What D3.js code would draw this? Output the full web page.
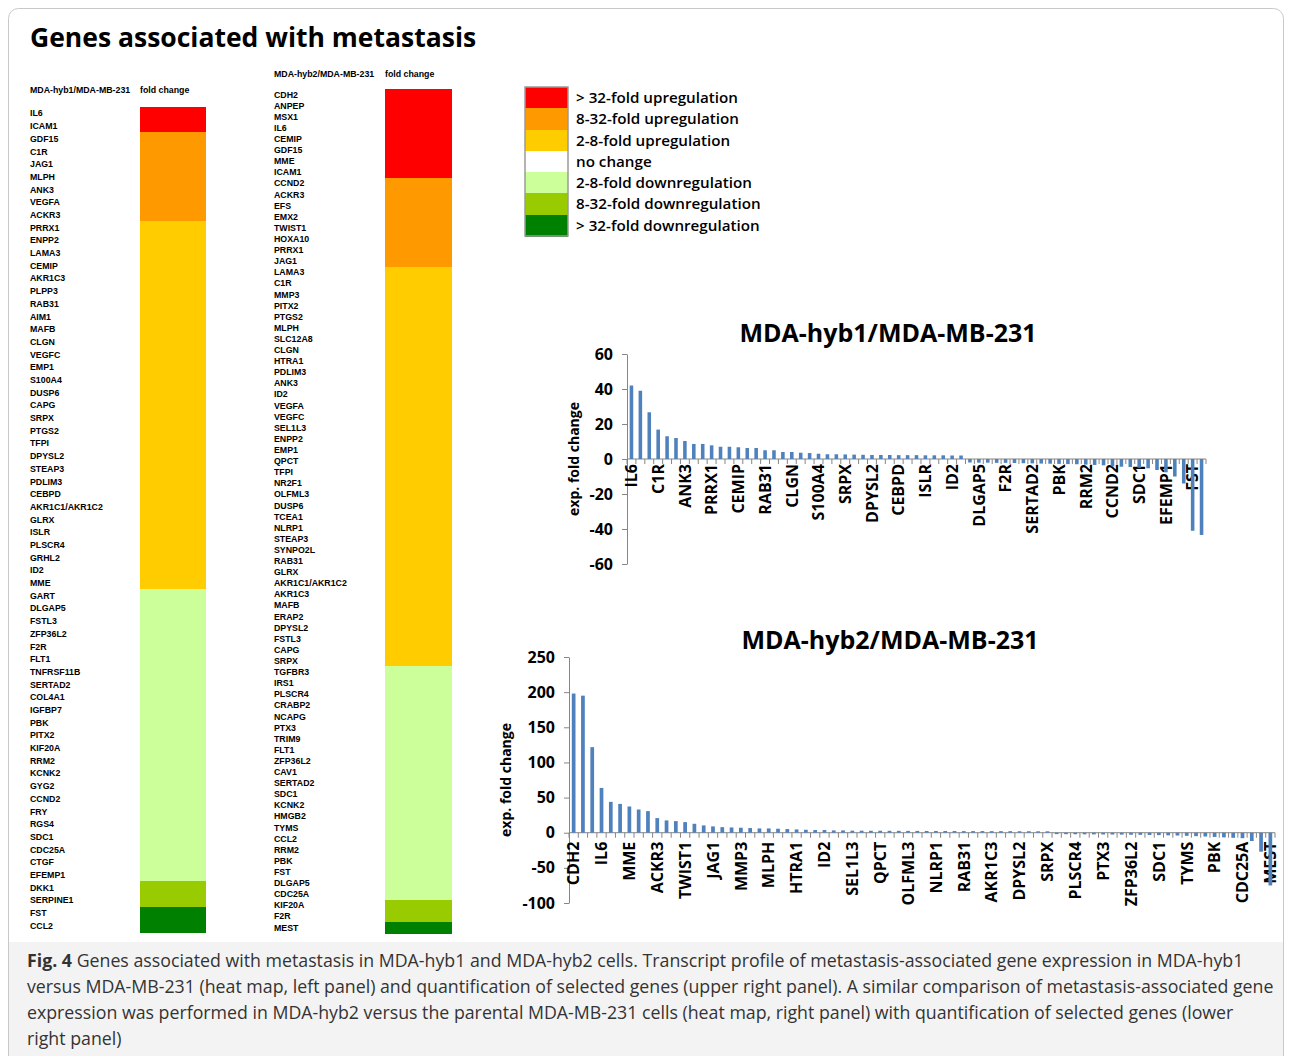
<!DOCTYPE html>
<html>
<head>
<meta charset="utf-8">
<script src="https://cdn.jsdelivr.net/npm/d3@7/dist/d3.min.js"></script>
<style>
body { margin: 0; background: #fff; }
svg { display: block; }
</style>
</head>
<body>
<div id="fig"></div>
<script>
/****** data ******/
var hyb1Genes = ["IL6","ICAM1","GDF15","C1R","JAG1","MLPH","ANK3","VEGFA","ACKR3","PRRX1",
    "ENPP2","LAMA3","CEMIP","AKR1C3","PLPP3","RAB31","AIM1","MAFB","CLGN","VEGFC",
    "EMP1","S100A4","DUSP6","CAPG","SRPX","PTGS2","TFPI","DPYSL2","STEAP3","PDLIM3",
    "CEBPD","AKR1C1/AKR1C2","GLRX","ISLR","PLSCR4","GRHL2","ID2","MME","GART","DLGAP5",
    "FSTL3","ZFP36L2","F2R","FLT1","TNFRSF11B","SERTAD2","COL4A1","IGFBP7","PBK","PITX2",
    "KIF20A","RRM2","KCNK2","GYG2","CCND2","FRY","RGS4","SDC1","CDC25A","CTGF",
    "EFEMP1","DKK1","SERPINE1","FST","CCL2"];
var hyb1Fold = [42, 39, 26.7, 16.8, 13, 12, 10.3, 8.6, 8.6, 7.8,
    7, 7, 6.7, 6.3, 6.3, 5, 5, 4, 4, 3.6,
    3.4, 3, 2.7, 2.7, 2.6, 2.5, 2.4, 2.3, 2.3, 2.3,
    2.2, 2.2, 2.2, 2.1, 2.1, 2.1, 2.0, 2.0, -2.0, -2.1,
    -2.1, -2.2, -2.2, -2.3, -2.4, -2.5, -2.6, -2.7, -2.8, -2.9,
    -3.0, -3.2, -3.4, -3.6, -4.2, -4.4, -4.6, -5.0, -5.3, -6.3,
    -7.6, -10, -14, -41, -43.4];

var hyb2Genes = ["CDH2","ANPEP","MSX1","IL6","CEMIP","GDF15","MME","ICAM1","CCND2","ACKR3",
    "EFS","EMX2","TWIST1","HOXA10","PRRX1","JAG1","LAMA3","C1R","MMP3","PITX2",
    "PTGS2","MLPH","SLC12A8","CLGN","HTRA1","PDLIM3","ANK3","ID2","VEGFA","VEGFC",
    "SEL1L3","ENPP2","EMP1","QPCT","TFPI","NR2F1","OLFML3","DUSP6","TCEA1","NLRP1",
    "STEAP3","SYNPO2L","RAB31","GLRX","AKR1C1/AKR1C2","AKR1C3","MAFB","ERAP2","DPYSL2","FSTL3",
    "CAPG","SRPX","TGFBR3","IRS1","PLSCR4","CRABP2","NCAPG","PTX3","TRIM9","FLT1",
    "ZFP36L2","CAV1","SERTAD2","SDC1","KCNK2","HMGB2","TYMS","CCL2","RRM2","PBK",
    "FST","DLGAP5","CDC25A","KIF20A","F2R","MEST"];
var hyb2Fold = [198, 195, 121.7, 63.7, 43.9, 41, 37.3, 33, 30.7, 20.8,
    17.5, 16.5, 15.1, 12.7, 10.4, 9, 7.9, 7.5, 7.1, 6.6,
    6.1, 6.1, 5.7, 5.2, 4.7, 4.2, 3.8, 3.8, 3.3, 3.3,
    2.9, 2.9, 2.8, 2.8, 2.7, 2.7, 2.6, 2.6, 2.5, 2.5,
    2.4, 2.4, 2.3, 2.3, 2.3, 2.2, 2.2, 2.2, 2.1, 2.1,
    2.0, 2.0, -2.0, -2.1, -2.2, -2.3, -2.4, -2.5, -2.6, -2.7,
    -2.9, -3.0, -3.2, -3.4, -3.7, -4.0, -4.4, -4.9, -5.4, -6.0,
    -6.6, -7.2, -7.8, -11.8, -27, -75];

var hyb1Ticks = [-60, -40, -20, 0, 20, 40, 60];
var hyb2Ticks = [-100, -50, 0, 50, 100, 150, 200, 250];

var legendLabels = ["> 32-fold upregulation", "8-32-fold upregulation", "2-8-fold upregulation",
    "no change", "2-8-fold downregulation", "8-32-fold downregulation", "> 32-fold downregulation"];
var legendColors = ["#ff0000", "#ff9900", "#ffcc00", "#ffffff", "#ccff99", "#99cc00", "#008000"];

var captionLines = [
    "Genes associated with metastasis in MDA-hyb1 and MDA-hyb2 cells. Transcript profile of metastasis-associated gene expression in MDA-hyb1",
    "versus MDA-MB-231 (heat map, left panel) and quantification of selected genes (upper right panel). A similar comparison of metastasis-associated gene",
    "expression was performed in MDA-hyb2 versus the parental MDA-MB-231 cells (heat map, right panel) with quantification of selected genes (lower",
    "right panel)"];

/****** setup ******/
var W = 1292, H = 1056;
var barColor = "#4f81bd";
var axisColor = "#868686";
var sansFont = "'Open Sans', 'Noto Sans', sans-serif";
var arialFont = "'Liberation Sans', Arial, sans-serif";

var svg = d3.select("#fig").append("svg")
    .attr("width", W)
    .attr("height", H);

// caption background + frame
svg.append("rect").attr("x", 8).attr("y", 942).attr("width", W - 16).attr("height", H - 942)
    .attr("fill", "#f3f3f3");
svg.append("rect").attr("x", 8.5).attr("y", 8.5).attr("width", W - 17).attr("height", H + 20)
    .attr("rx", 10).attr("fill", "none").attr("stroke", "#c8c8c8");

svg.append("text")
    .attr("x", 30).attr("y", 47)
    .style("font-family", sansFont).style("font-weight", 700).style("font-size", "26.5px")
    .text("Genes associated with metastasis");

// heat colour from fold change
var upScale = d3.scaleThreshold().domain([2, 8, 32]).range([legendColors[3], legendColors[2], legendColors[1], legendColors[0]]);
var downScale = d3.scaleThreshold().domain([2, 8, 32]).range([legendColors[3], legendColors[4], legendColors[5], legendColors[6]]);
function heatColor(v) {
    return v >= 0 ? upScale(v) : downScale(-v);
}

/****** heat maps ******/
function heatMap(genes, values, opt) {
    var g = svg.append("g");
    var y = d3.scaleBand().domain(genes).range([opt.top, opt.bottom]);

    g.append("text").attr("x", opt.labelX).attr("y", opt.headY)
        .style("font-family", arialFont).style("font-weight", "bold").style("font-size", "8.8px")
        .text(opt.head);
    g.append("text").attr("x", opt.cellX).attr("y", opt.headY)
        .style("font-family", arialFont).style("font-weight", "bold").style("font-size", "8.8px")
        .text("fold change");

    g.selectAll("rect.cell")
        .data(genes)
        .enter().append("rect")
        .attr("class", "cell")
        .attr("x", opt.cellX)
        .attr("y", function(d) { return y(d); })
        .attr("width", opt.cellW)
        .attr("height", y.bandwidth() + 1)
        .attr("shape-rendering", "crispEdges")
        .attr("fill", function(d, i) { return heatColor(values[i]); });

    g.selectAll("text.gene")
        .data(genes)
        .enter().append("text")
        .attr("class", "gene")
        .attr("x", opt.labelX)
        .attr("y", function(d) { return y(d) + y.bandwidth() / 2; })
        .attr("dy", "0.35em")
        .style("font-family", arialFont).style("font-weight", "bold").style("font-size", "8.8px")
        .text(function(d) { return d; });
}

heatMap(hyb1Genes, hyb1Fold, {top: 107, bottom: 932, labelX: 30, cellX: 140, cellW: 66, headY: 93, head: "MDA-hyb1/MDA-MB-231"});
heatMap(hyb2Genes, hyb2Fold, {top: 89, bottom: 933, labelX: 274, cellX: 385, cellW: 67, headY: 77, head: "MDA-hyb2/MDA-MB-231"});

/****** legend ******/
var lg = svg.append("g");
var ly = d3.scaleBand().domain(legendLabels).range([87, 236]);
lg.selectAll("rect")
    .data(legendLabels)
    .enter().append("rect")
    .attr("x", 525).attr("y", function(d) { return ly(d); })
    .attr("width", 43).attr("height", ly.bandwidth() + 0.5)
    .attr("shape-rendering", "crispEdges")
    .attr("fill", function(d, i) { return legendColors[i]; });
lg.append("rect").attr("x", 525).attr("y", 87).attr("width", 43).attr("height", 149)
    .attr("fill", "none").attr("stroke", "#9a9a9a").attr("stroke-width", 1.5);
lg.selectAll("text")
    .data(legendLabels)
    .enter().append("text")
    .attr("x", 576).attr("y", function(d) { return ly(d) + ly.bandwidth() / 2; })
    .attr("dy", "0.35em")
    .style("font-family", sansFont).style("font-weight", 600).style("font-size", "15.2px")
    .text(function(d) { return d; });

/****** bar charts ******/
function barChart(genes, values, ticks, opt) {
    var g = svg.append("g");
    var y = d3.scaleLinear().domain([ticks[0], ticks[ticks.length - 1]]).range([opt.bottom, opt.top]);
    var x = d3.scaleBand().domain(genes).range([opt.left, opt.right]).paddingInner(0.6).paddingOuter(0.3);
    var y0 = y(0);
    var step = x.step();

    g.append("text")
        .attr("x", opt.titleX).attr("y", opt.titleY)
        .attr("text-anchor", "middle")
        .style("font-family", sansFont).style("font-weight", "bold").style("font-size", "25px")
        .text(opt.title);

    g.append("text")
        .attr("transform", "translate(" + opt.yLabelX + "," + ((opt.top + opt.bottom) / 2) + ") rotate(-90)")
        .attr("text-anchor", "middle")
        .style("font-family", sansFont).style("font-weight", "bold").style("font-size", "14px")
        .text("exp. fold change");

    var ax = g.append("g")
        .attr("transform", "translate(" + opt.left + ",0)")
        .call(d3.axisLeft(y).tickValues(ticks).tickSize(5).tickSizeOuter(0).tickPadding(9)
            .tickFormat(function(d) { return String(d); }));
    ax.select(".domain").attr("stroke", axisColor);
    ax.selectAll(".tick line").attr("stroke", axisColor);
    ax.selectAll(".tick text")
        .style("font-family", sansFont).style("font-weight", "bold").style("font-size", "16px")
        .attr("fill", "#000");

    // category axis at zero
    g.append("line")
        .attr("x1", opt.left).attr("x2", opt.right)
        .attr("y1", y0).attr("y2", y0)
        .attr("stroke", axisColor);
    g.selectAll("line.ctick")
        .data(d3.range(genes.length + 1))
        .enter().append("line")
        .attr("class", "ctick")
        .attr("x1", function(i) { return opt.left + i * step; })
        .attr("x2", function(i) { return opt.left + i * step; })
        .attr("y1", y0).attr("y2", y0 + 5)
        .attr("stroke", axisColor);

    g.selectAll("text.cat")
        .data(genes.filter(function(d, i) { return i % 3 === 0; }))
        .enter().append("text")
        .attr("class", "cat")
        .attr("transform", function(d) {
            return "translate(" + (x(d) + x.bandwidth() / 2) + "," + (y0 + opt.labelGap) + ") rotate(-90)";
        })
        .attr("dy", "0.36em")
        .attr("text-anchor", "end")
        .style("font-family", sansFont).style("font-weight", "bold").style("font-size", "16px")
        .text(function(d) { return d; });

    g.selectAll("rect.bar")
        .data(genes)
        .enter().append("rect")
        .attr("class", "bar")
        .attr("x", function(d) { return x(d); })
        .attr("y", function(d, i) { return Math.min(y(values[i]), y0); })
        .attr("width", x.bandwidth())
        .attr("height", function(d, i) { return Math.abs(y(values[i]) - y0); })
        .attr("fill", barColor);
}

barChart(hyb1Genes, hyb1Fold, hyb1Ticks, {left: 627, right: 1206, top: 354, bottom: 564,
    title: "MDA-hyb1/MDA-MB-231", titleX: 888, titleY: 342, yLabelX: 579, labelGap: 5});
barChart(hyb2Genes, hyb2Fold, hyb2Ticks, {left: 569, right: 1275, top: 657, bottom: 903,
    title: "MDA-hyb2/MDA-MB-231", titleX: 890, titleY: 649, yLabelX: 511, labelGap: 9});

/****** caption ******/
var cap = svg.append("g")
    .style("font-family", sansFont).style("font-size", "17.75px").attr("fill", "#333");
captionLines.forEach(function(line, i) {
    var t = cap.append("text").attr("x", 27).attr("y", 967 + i * 26);
    if (i === 0) {
        t.append("tspan").style("font-weight", "bold").text("Fig. 4");
        t.append("tspan").text(" " + line);
    } else {
        t.text(line);
    }
});
</script>
</body>
</html>
